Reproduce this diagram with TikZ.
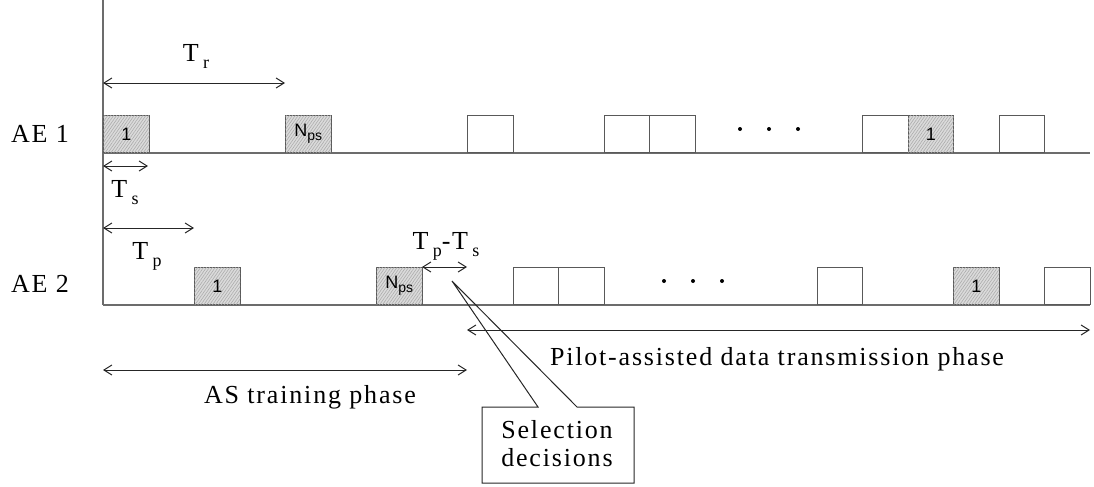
\documentclass[tikz,border=0pt]{standalone}
\usepackage{fontspec}
\setmainfont{Liberation Serif}[LetterSpace=7]
\newfontfamily\boxfont{Liberation Sans}
\usetikzlibrary{arrows.meta,patterns.meta}
\newcommand{\sbs}[1]{\,\raisebox{-3.5pt}{\fontsize{9}{9}\selectfont #1}}
\newcommand{\nps}{N{\fontsize{7}{7}\selectfont\raisebox{-2pt}{ps}}}
\begin{document}
\begin{tikzpicture}[x=0.5pt,y=-0.5pt,
  base/.style={draw=gray!85!black, line width=0.7pt},
  slot/.style={draw=black!65, line width=0.6pt, minimum width=22.75pt, minimum height=18.5pt,
     inner sep=0pt, anchor=south west, font=\boxfont\fontsize{9}{9}\selectfont},
  hatched/.style={slot, fill=gray!28,
     postaction={pattern={Lines[angle=55,distance=1.2pt,line width=0.3pt]}, pattern color=gray!65}},
  dim/.style={{Straight Barb[length=4pt,width=5pt]}-{Straight Barb[length=4pt,width=5pt]}, line width=0.5pt, draw=black!85},
  lbl/.style={font=\fontsize{13}{14}\selectfont, inner sep=0pt},
  dotmark/.style={circle, fill=black, inner sep=0pt, minimum size=2pt}
]
\useasboundingbox (0,0) rectangle (1094,487);

% axis and baselines
\coordinate (top) at (103,0);
\coordinate (o1) at (103,153);
\coordinate (e1) at (1090,153);
\coordinate (o2) at (103,305);
\coordinate (e2) at (1090,305);
\draw[base] (top) -- (o2);
\draw[base] (o1) -- (e1);
\draw[base] (o2) -- (e2);

% row labels
\node[lbl] (ae1) at (40,134) {AE 1};
\node[lbl] (ae2) at (40,284) {AE 2};

% AE1 slots
\node[hatched] (a1) at (103,153) {1};
\node[hatched] (a2) at (285,153) {\nps};
\node[slot] (a3) at (467,153) {};
\node[slot] (a4) at (603.5,153) {};
\node[slot] (a5) at (649,153) {};
\node[slot] (a6) at (862,153) {};
\node[hatched] (a7) at (907.5,153) {1};
\node[slot] (a8) at (998.5,153) {};
\node[dotmark] (d11) at (740,129) {};
\node[dotmark] (d12) at (769,129) {};
\node[dotmark] (d13) at (798,129) {};

% AE2 slots
\node[hatched] (b1) at (194,305) {1};
\node[hatched] (b2) at (376,305) {\nps};
\node[slot] (b3) at (512.5,305) {};
\node[slot] (b4) at (558,305) {};
\node[slot] (b5) at (816.5,305) {};
\node[hatched] (b6) at (953,305) {1};
\node[slot] (b7) at (1044,305) {};
\node[dotmark] (d21) at (664,281) {};
\node[dotmark] (d22) at (693,281) {};
\node[dotmark] (d23) at (722,281) {};

% dimension arrows
\coordinate (tr0) at (103,83);  \coordinate (tr1) at (285,83);
\draw[dim] (tr0) -- (tr1);
\node[lbl] (trl) at (196,56) {T\sbs{r}};

\coordinate (ts0) at (103,166); \coordinate (ts1) at (148,166);
\draw[dim] (ts0) -- (ts1);
\node[lbl] (tsl) at (125,193) {T\sbs{s}};

\coordinate (tp0) at (103,228); \coordinate (tp1) at (194,228);
\draw[dim] (tp0) -- (tp1);
\node[lbl] (tpl) at (147,256) {T\sbs{p}};

\coordinate (d0) at (422,267); \coordinate (d1) at (467,267);
\draw[dim] (d0) -- (d1);
\node[lbl] (dl) at (446,246) {T\sbs{p}-T\sbs{s}};

\coordinate (p0) at (467,330); \coordinate (p1) at (1090,330);
\draw[dim] (p0) -- (p1);
\node[lbl] (pl) at (777,359) {Pilot-assisted data transmission phase};

\coordinate (s0) at (103,370); \coordinate (s1) at (467,370);
\draw[dim] (s0) -- (s1);
\node[lbl] (sl) at (310,397) {AS training phase};

% callout
\node[lbl, align=center] (sel) at (557,444) {Selection\\decisions};
\coordinate (tip) at (452,281);
\coordinate (c1) at (482,407);
\coordinate (c2) at (538,407);
\coordinate (c3) at (577,407);
\coordinate (c4) at (634,407);
\coordinate (c5) at (634,483);
\coordinate (c6) at (482,483);
\draw[line width=0.5pt, draw=black!85] (c2) -- (c1) -- (c6) -- (c5) -- (c4) -- (c3) -- (tip) -- cycle;
\end{tikzpicture}
\end{document}
